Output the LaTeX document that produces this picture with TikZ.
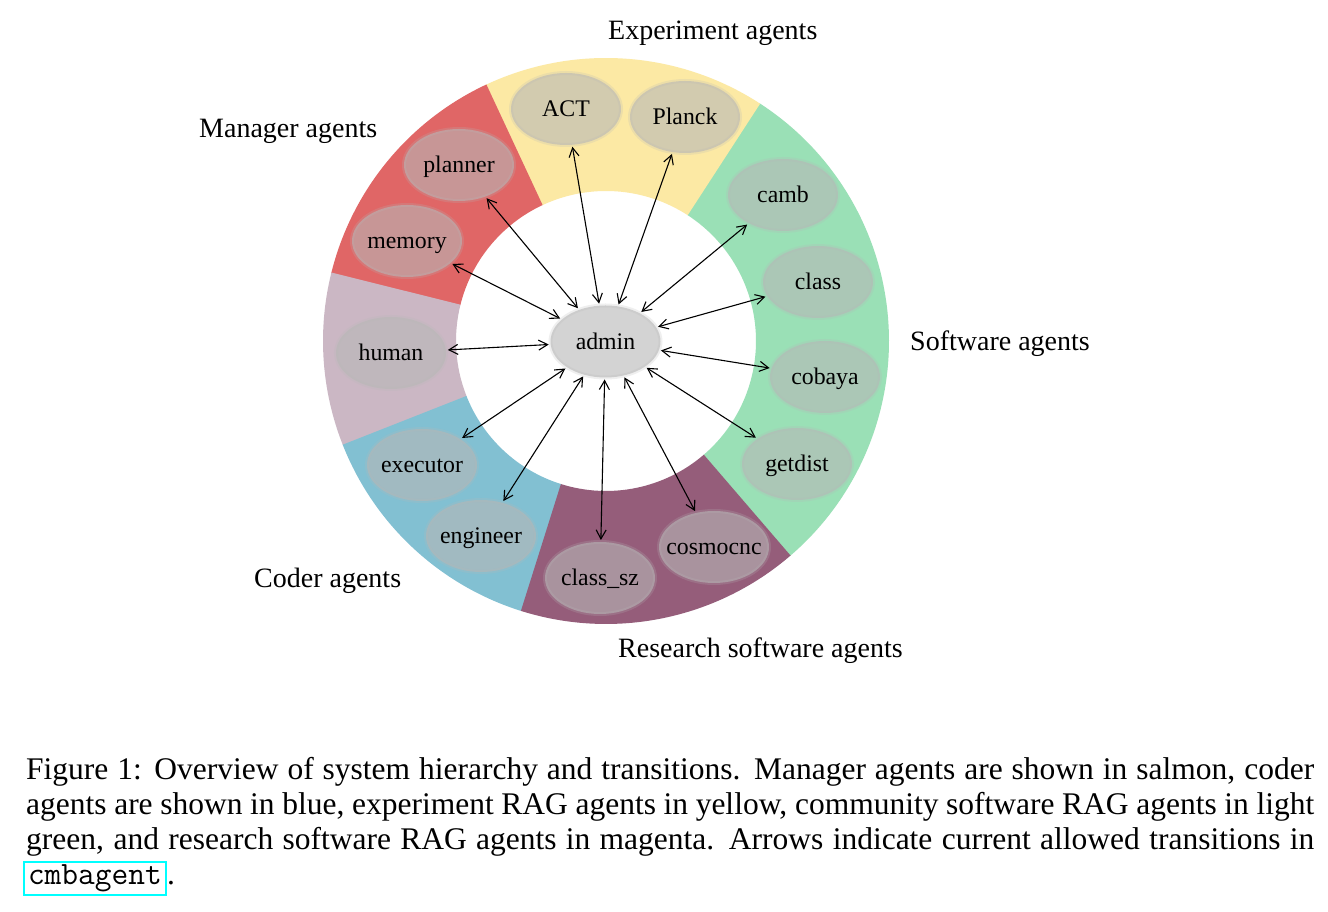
\documentclass[tikz,border=0pt]{standalone}
\usepackage{fontspec}
\setmainfont{Liberation Serif}
\usetikzlibrary{shapes.geometric,arrows.meta}
\definecolor{ringyellow}{RGB}{252,233,164}
\definecolor{ringred}{RGB}{224,102,102}
\definecolor{ringpink}{RGB}{203,183,196}
\definecolor{ringblue}{RGB}{130,192,210}
\definecolor{ringmag}{RGB}{149,93,122}
\definecolor{ringgreen}{RGB}{154,224,182}
\definecolor{agentgray}{RGB}{183,183,183}
\definecolor{linkcyan}{RGB}{0,255,255}
\newcommand{\agtext}[1]{\makebox[0pt]{#1}}
\newcommand{\ringseg}[3]{\fill[#1] ([shift={(#2:283)}]C) arc[start angle=#2,end angle=#3,radius=283] -- ([shift={(#3:150)}]C) arc[start angle=#3,end angle=#2,radius=150] -- cycle;}
\begin{document}
\begin{tikzpicture}[x=1pt,y=1pt,
  agent/.style={ellipse, minimum width=110pt, minimum height=72pt, inner sep=0pt,
    text height=16pt, text depth=0pt, font=\fontsize{23.8}{28}\selectfont,
    fill=agentgray, fill opacity=0.6, text opacity=1,
    draw=agentgray, draw opacity=0.22, line width=4pt},
  grouplabel/.style={anchor=base west, inner sep=0pt, font=\fontsize{28}{34}\selectfont},
  link/.style={<->, >={Straight Barb[length=9pt,width=10pt]}, line width=1.1pt},
  capline/.style={anchor=base west, inner sep=0pt, font=\fontsize{31.5}{35}\selectfont}
]
\useasboundingbox (0,0) rectangle (1328,912);
\fill[white] (0,0) rectangle (1328,912);
\coordinate (C) at (606,571);
\ringseg{ringgreen}{-49.5}{57.2}
\ringseg{ringyellow}{57}{115.2}
\ringseg{ringred}{115}{166.2}
\ringseg{ringpink}{166}{201.7}
\ringseg{ringblue}{201.5}{252.7}
\ringseg{ringmag}{252.5}{310.7}

\node[agent] (admin) at (605.5,570.5) {\agtext{admin}};
\node[agent] (act) at (566,803) {\agtext{ACT}};
\node[agent] (planck) at (685,795) {\agtext{Planck}};
\node[agent] (planner) at (459,747) {\agtext{planner}};
\node[agent] (memory) at (407,671) {\agtext{memory}};
\node[agent] (human) at (391,559) {\agtext{human}};
\node[agent] (executor) at (422,447) {\agtext{executor}};
\node[agent] (engineer) at (481,376) {\agtext{engineer}};
\node[agent] (classsz) at (600,334) {\agtext{class\_sz}};
\node[agent] (cosmocnc) at (714,365) {\agtext{cosmocnc}};
\node[agent] (getdist) at (797,448) {\agtext{getdist}};
\node[agent] (cobaya) at (825,535) {\agtext{cobaya}};
\node[agent] (class) at (818,630) {\agtext{class}};
\node[agent] (camb) at (783,717) {\agtext{camb}};

\foreach \t in {act,planck,planner,memory,human,executor,engineer,classsz,cosmocnc,getdist,cobaya,class,camb}
  \draw[link] (admin) -- (\t);

\node[grouplabel] (lexp) at (608,872) {Experiment agents};
\node[grouplabel] (lman) at (199,774) {Manager agents};
\node[grouplabel] (lsoft) at (910,561) {Software agents};
\node[grouplabel] (lcoder) at (254,324) {Coder agents};
\node[grouplabel] (lres) at (618,254) {Research software agents};

\node[capline] (cap1) at (26,132) {\makebox[1288pt][s]{Figure 1: Overview of system hierarchy and transitions. Manager agents are shown in salmon, coder}};
\node[capline] (cap2) at (26,97) {\makebox[1288pt][s]{agents are shown in blue, experiment RAG agents in yellow, community software RAG agents in light}};
\node[capline] (cap3) at (26,62) {\makebox[1288pt][s]{green, and research software RAG agents in magenta. Arrows indicate current allowed transitions in}};
\node[capline, draw=linkcyan, line width=2pt, inner xsep=4pt, inner ysep=3pt] (cmb) at (23,27) {\fontsize{32.5}{35}\selectfont\ttfamily cmbagent};
\node[capline] (capdot) at (cmb.base east) {.};
\end{tikzpicture}
\end{document}
